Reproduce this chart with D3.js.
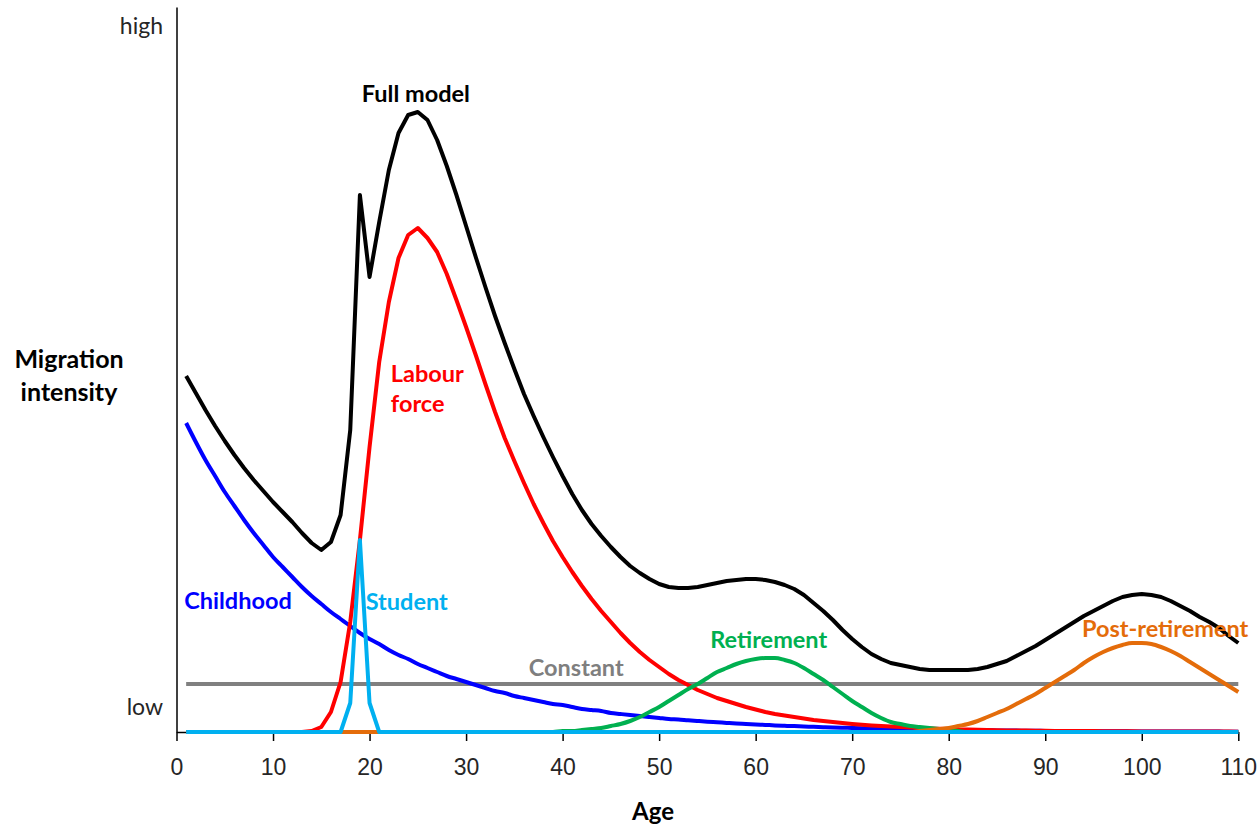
<!DOCTYPE html>
<html lang="en">
<head>
<meta charset="UTF-8">
<title>Migration intensity by age</title>
<script src="https://cdn.jsdelivr.net/npm/d3@7"></script>
<style>
  body { margin: 0; background: #fff; }
  svg { display: block; font-family: Lato, "Open Sans", sans-serif; }
  .curve { fill: none; stroke-width: 4; stroke-linejoin: round; stroke-linecap: butt; }
  .axis path, .axis line { stroke: #000; stroke-width: 1.5; }
  .axis text { font-size: 23px; fill: #262626; }
</style>
</head>
<body>
<svg id="chart" width="1259" height="827"></svg>
<script>
// ages 1..110, one value per year (arbitrary intensity units)
const ages = d3.range(1, 111);
const ageTicks = [0, 10, 20, 30, 40, 50, 60, 70, 80, 90, 100, 110];

const fullModel = [
  356, 339, 322, 306, 291, 277, 264, 252, 241, 230,
  220, 210, 199, 189, 182, 190, 217, 302, 537, 455,
  510, 562, 599, 617, 620, 612, 592, 566, 537, 506,
  475, 445, 416, 389, 363, 338, 316, 295, 275, 256,
  238, 222, 208, 196, 185, 175, 166, 159, 153, 148,
  145, 144, 144, 145, 147, 149, 151, 152, 153, 153,
  152, 150, 147, 143, 137, 129, 121, 112, 102, 93,
  85, 78, 73, 69, 67, 65, 63, 62, 62, 62,
  62, 62, 63, 65, 68, 71, 76, 81, 86, 92,
  98, 104, 110, 116, 121, 126, 131, 135, 137, 138,
  137, 135, 131, 126, 121, 115, 110, 104, 96, 89
];

const childhood = [
  309, 290, 272, 256, 240, 226, 212, 199, 187, 175,
  165, 155, 145, 136, 128, 120, 113, 106, 99, 93,
  88, 82, 77, 73, 68, 64, 60, 56, 53, 50,
  47, 44, 41, 39, 36, 34, 32, 30, 28, 27,
  25, 23, 22, 21, 19, 18, 17, 16, 15, 14,
  13, 12.5, 11.7, 11, 10.3, 9.7, 9.1, 8.5, 8, 7.5,
  7.1, 6.6, 6.2, 5.9, 5.5, 5.2, 4.8, 4.5, 4.3, 4,
  3.8, 3.5, 3.3, 3.1, 2.9, 2.8, 2.6, 2.4, 2.3, 2.1,
  2, 1.9, 1.8, 1.7, 1.6, 1.5, 1.4, 1.3, 1.2, 1.1,
  1, 1, 0.9, 0.9, 0.8, 0.8, 0.7, 0.7, 0.6, 0.6,
  0.6, 0.5, 0.5, 0.5, 0.4, 0.4, 0.4, 0.4, 0.3, 0.3
];

const labourForce = [
  0, 0, 0, 0, 0, 0, 0, 0, 0, 0,
  0, 0, 0, 1, 5, 20, 50, 110, 192, 285,
  370, 430, 474, 497, 504, 494, 480, 458, 432, 405,
  377, 348, 320, 294, 271, 249, 228, 209, 191, 175,
  160, 146, 133, 121, 110, 99, 89, 80, 72, 65,
  58, 52, 47, 42, 38, 34, 31, 28, 25, 22.5,
  20, 18, 16.5, 15, 13.5, 12, 11, 10, 9, 8,
  7.2, 6.5, 6, 5.4, 4.9, 4.4, 4, 3.6, 3.2, 2.9,
  2.6, 2.4, 2.2, 2, 1.8, 1.6, 1.5, 1.4, 1.3, 1.2,
  1.1, 1, 1, 0.9, 0.9, 0.8, 0.8, 0.7, 0.7, 0.6,
  0.6, 0.6, 0.5, 0.5, 0.5, 0.4, 0.4, 0.4, 0.4, 0.3
];

const student = [
  0, 0, 0, 0, 0, 0, 0, 0, 0, 0,
  0, 0, 0, 0, 0, 0, 0, 29, 192, 29,
  0, 0, 0, 0, 0, 0, 0, 0, 0, 0,
  0, 0, 0, 0, 0, 0, 0, 0, 0, 0,
  0, 0, 0, 0, 0, 0, 0, 0, 0, 0,
  0, 0, 0, 0, 0, 0, 0, 0, 0, 0,
  0, 0, 0, 0, 0, 0, 0, 0, 0, 0,
  0, 0, 0, 0, 0, 0, 0, 0, 0, 0,
  0, 0, 0, 0, 0, 0, 0, 0, 0, 0,
  0, 0, 0, 0, 0, 0, 0, 0, 0, 0,
  0, 0, 0, 0, 0, 0, 0, 0, 0, 0
];

const retirement = [
  0, 0, 0, 0, 0, 0, 0, 0, 0, 0,
  0, 0, 0, 0, 0, 0, 0, 0, 0, 0,
  0, 0, 0, 0, 0, 0, 0, 0, 0, 0,
  0, 0, 0, 0, 0, 0, 0, 0, 0, 1,
  1, 2, 3, 4, 6, 8, 11, 15, 20, 25,
  31, 37, 43, 48, 54, 60, 64, 68, 71, 73,
  74, 74, 72, 69, 64, 58, 52, 45, 38, 31,
  25, 19, 14, 10, 8, 6, 5, 4, 3, 2,
  1, 0, 0, 0, 0, 0, 0, 0, 0, 0,
  0, 0, 0, 0, 0, 0, 0, 0, 0, 0,
  0, 0, 0, 0, 0, 0, 0, 0, 0, 0
];

const postRetirement = [
  0, 0, 0, 0, 0, 0, 0, 0, 0, 0,
  0, 0, 0, 0, 0, 0, 0, 0, 0, 0,
  0, 0, 0, 0, 0, 0, 0, 0, 0, 0,
  0, 0, 0, 0, 0, 0, 0, 0, 0, 0,
  0, 0, 0, 0, 0, 0, 0, 0, 0, 0,
  0, 0, 0, 0, 0, 0, 0, 0, 0, 0,
  0, 0, 0, 0, 0, 0, 0, 0, 0, 0,
  0, 0, 0, 0, 0, 0, 1, 2, 3, 4,
  6, 8, 11, 15, 19, 23, 28, 33, 38, 44,
  50, 56, 62, 69, 75, 80, 84, 87, 89, 89,
  88, 85, 81, 76, 70, 64, 58, 52, 46, 40
];

const constant = [
  48, 48, 48, 48, 48, 48, 48, 48, 48, 48,
  48, 48, 48, 48, 48, 48, 48, 48, 48, 48,
  48, 48, 48, 48, 48, 48, 48, 48, 48, 48,
  48, 48, 48, 48, 48, 48, 48, 48, 48, 48,
  48, 48, 48, 48, 48, 48, 48, 48, 48, 48,
  48, 48, 48, 48, 48, 48, 48, 48, 48, 48,
  48, 48, 48, 48, 48, 48, 48, 48, 48, 48,
  48, 48, 48, 48, 48, 48, 48, 48, 48, 48,
  48, 48, 48, 48, 48, 48, 48, 48, 48, 48,
  48, 48, 48, 48, 48, 48, 48, 48, 48, 48,
  48, 48, 48, 48, 48, 48, 48, 48, 48, 48
];

// drawing order: bottom first; the spiky ones stay as straight segments
const series = [
  { name: "Constant", values: constant, color: "#808080", smooth: true },
  { name: "Childhood", values: childhood, color: "#0000ff", smooth: true },
  { name: "Labour force", values: labourForce, color: "#ff0000", smooth: false },
  { name: "Retirement", values: retirement, color: "#00b050", smooth: true },
  { name: "Post-retirement", values: postRetirement, color: "#e46c0a", smooth: true },
  { name: "Student", values: student, color: "#00b0f0", smooth: false },
  { name: "Full model", values: fullModel, color: "#000000", smooth: false }
];

// curve labels, in data units (age, intensity)
const labels = [
  { lines: ["Full model"], age: 19.2, v: 630, color: "#000000" },
  { lines: ["Labour", "force"], age: 22.2, v: 350, color: "#ff0000" },
  { lines: ["Childhood"], age: 0.8, v: 123, color: "#0000ff" },
  { lines: ["Student"], age: 19.6, v: 122, color: "#00b0f0" },
  { lines: ["Constant"], age: 36.5, v: 56, color: "#7f7f7f" },
  { lines: ["Retirement"], age: 55.3, v: 84, color: "#00b050" },
  { lines: ["Post-retirement"], age: 93.8, v: 95, color: "#e46c0a" }
];

const svg = d3.select("#chart");

const x = d3.scaleLinear().domain([0, 110]).range([176.5, 1238.3]);
const y = d3.scaleLinear().domain([0, 725]).range([732, 7]);

// x axis
svg.append("g")
  .attr("class", "axis")
  .attr("transform", `translate(0,${y(0)})`)
  .call(d3.axisBottom(x).tickValues(ageTicks).tickSize(9).tickSizeOuter(0).tickPadding(12))
  .call(g => g.selectAll("text").attr("dy", "0.95em"));

// y axis: only a line, with "low" / "high" words
svg.append("g")
  .attr("class", "axis")
  .attr("transform", `translate(${x(0)},0)`)
  .call(d3.axisLeft(y).tickValues([]).tickSizeOuter(0));

svg.append("text").attr("x", 163).attr("y", y(17))
  .attr("text-anchor", "end").attr("font-size", 23).attr("fill", "#262626").text("low");
svg.append("text").attr("x", 163).attr("y", y(698))
  .attr("text-anchor", "end").attr("font-size", 23).attr("fill", "#262626").text("high");

// axis titles
const yt = svg.append("text").attr("text-anchor", "middle")
  .attr("font-size", 25).attr("font-weight", "bold").attr("fill", "#000");
yt.append("tspan").attr("x", 69).attr("y", 368).text("Migration");
yt.append("tspan").attr("x", 69).attr("y", 401).text("intensity");

svg.append("text").attr("x", 653).attr("y", 820).attr("text-anchor", "middle")
  .attr("font-size", 24).attr("font-weight", "bold").attr("fill", "#000").text("Age");

// curves
const smoothLine = d3.line()
  .x((d, i) => x(ages[i]))
  .y(d => y(d))
  .curve(d3.curveMonotoneX);
const straightLine = d3.line()
  .x((d, i) => x(ages[i]))
  .y(d => y(d));

svg.append("g").selectAll("path")
  .data(series)
  .join("path")
  .attr("class", "curve")
  .attr("stroke", d => d.color)
  .attr("d", d => (d.smooth ? smoothLine : straightLine)(d.values));

// labels
labels.forEach(l => {
  const t = svg.append("text")
    .attr("font-size", 23.5)
    .attr("font-weight", "bold")
    .attr("fill", l.color);
  l.lines.forEach((s, i) => {
    t.append("tspan")
      .attr("x", x(l.age))
      .attr("y", y(l.v) + i * 30)
      .text(s);
  });
});
</script>
</body>
</html>
